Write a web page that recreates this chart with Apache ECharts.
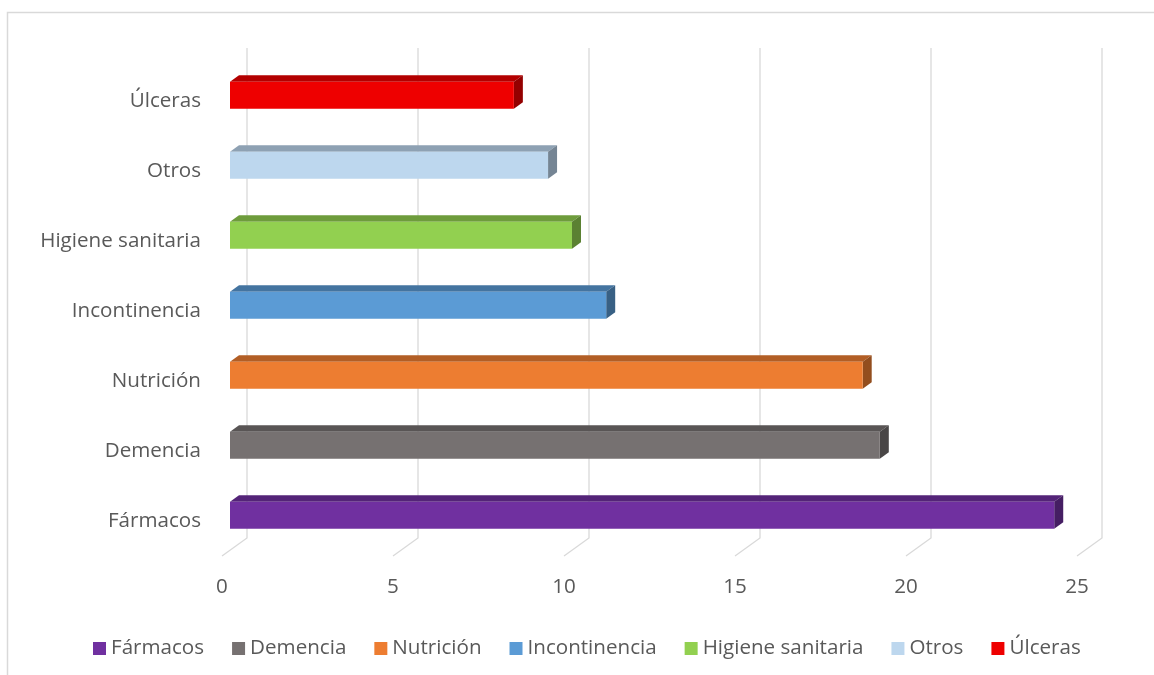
<!DOCTYPE html>
<html>
<head>
<meta charset="utf-8">
<script src="https://cdn.jsdelivr.net/npm/echarts@6/dist/echarts.min.js"></script>
<style>
html,body{margin:0;padding:0;background:#fff;}
#chart{width:1154px;height:675px;}
</style>
</head>
<body>
<div id="chart"></div>
<script>
// Categories (bottom to top) and values
const categories = ['Fármacos', 'Demencia', 'Nutrición', 'Incontinencia', 'Higiene sanitaria', 'Otros', 'Úlceras'];
const values = [24.1, 19.0, 18.5, 11.0, 10.0, 9.3, 8.3];
const xTicks = [0, 5, 10, 15, 20, 25];
const colors = ['#7030A0', '#767171', '#ED7D31', '#5B9BD5', '#92D050', '#BDD7EE', '#EE0000'];

const FONT = 'Open Sans';
const FONT_SIZE = 20.6;
const TEXT = '#595959';
const GRID = '#d9d9d9';
// 3D projection of the depth direction (full depth)
const DEPTH_X = 25, DEPTH_Y = -18;
const BAR_FRONT = 0.32, BAR_BACK = 0.68;

function shade(hex, f) {
  const n = parseInt(hex.slice(1), 16);
  const r = Math.round(((n >> 16) & 255) * f);
  const g = Math.round(((n >> 8) & 255) * f);
  const b = Math.round((n & 255) * f);
  return 'rgb(' + r + ',' + g + ',' + b + ')';
}

const chart = echarts.init(document.getElementById('chart'));

const gridSeries = {
  type: 'custom',
  name: '_grid',
  silent: true,
  z: 1,
  data: xTicks.map(t => [t, 0]),
  renderItem: function (params, api) {
    const cs = params.coordSys;
    const p = api.coord([api.value(0), 0]);
    const x = p[0];
    const yb = cs.y + cs.height;
    return {
      type: 'polyline',
      shape: { points: [[x + DEPTH_X, cs.y + DEPTH_Y], [x + DEPTH_X, yb + DEPTH_Y], [x, yb]] },
      style: { stroke: GRID, lineWidth: 1.3, fill: null }
    };
  }
};

const barSeries = categories.map((name, i) => ({
  type: 'custom',
  name: name,
  z: 5,
  itemStyle: { color: colors[i] },
  data: [[values[i], i]],
  renderItem: function (params, api) {
    const c = colors[i];
    const s = api.coord([0, api.value(1)]);
    const e = api.coord([api.value(0), api.value(1)]);
    const band = api.size([0, 1])[1];
    const h = band * 0.385;
    const fx = BAR_FRONT * DEPTH_X, fy = BAR_FRONT * DEPTH_Y;
    const dx = (BAR_BACK - BAR_FRONT) * DEPTH_X, dy = (BAR_BACK - BAR_FRONT) * DEPTH_Y;
    const x = s[0] + fx;
    const y = s[1] + fy - h / 2;
    const w = e[0] - s[0];
    return {
      type: 'group',
      children: [
        { type: 'polygon', shape: { points: [[x, y], [x + dx, y + dy], [x + w + dx, y + dy], [x + w, y]] },
          style: { fill: shade(c, 0.75) } },
        { type: 'polygon', shape: { points: [[x + w, y], [x + w + dx, y + dy], [x + w + dx, y + h + dy], [x + w, y + h]] },
          style: { fill: shade(c, 0.62) } },
        { type: 'rect', shape: { x: x, y: y, width: w, height: h },
          style: { fill: c } }
      ]
    };
  }
}));

chart.setOption({
  backgroundColor: '#ffffff',
  animation: false,
  graphic: [{
    type: 'rect', silent: true, z: 0,
    shape: { x: 7.5, y: 12.5, width: 1300, height: 800 },
    style: { fill: null, stroke: GRID, lineWidth: 1.5 }
  }],
  grid: { left: 222, right: 77, top: 66, bottom: 119, containLabel: false },
  xAxis: {
    type: 'value', min: 0, max: 25, interval: 5,
    axisLine: { show: false }, axisTick: { show: false }, splitLine: { show: false },
    axisLabel: { margin: 21, color: TEXT, fontFamily: FONT, fontSize: FONT_SIZE }
  },
  yAxis: {
    type: 'category', data: categories,
    axisLine: { show: false }, axisTick: { show: false }, splitLine: { show: false },
    axisLabel: { margin: 21, color: TEXT, fontFamily: FONT, fontSize: FONT_SIZE }
  },
  legend: {
    data: categories,
    left: 88, top: 633,
    icon: 'rect', itemWidth: 13, itemHeight: 13, itemGap: 28, itemStyle: { borderWidth: 0 },
    textStyle: { color: TEXT, fontFamily: FONT, fontSize: FONT_SIZE, padding: [0, 0, 0, 0] },
    selectedMode: false
  },
  series: [gridSeries].concat(barSeries)
});
</script>
</body>
</html>
